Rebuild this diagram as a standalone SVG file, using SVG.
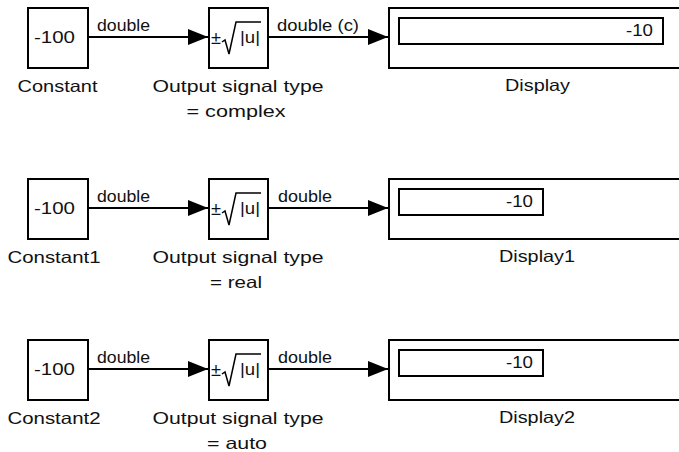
<svg xmlns="http://www.w3.org/2000/svg" width="679" height="452" viewBox="0 0 679 452">
<style>
.blk{fill:#fff;stroke:#000;stroke-width:2}
.fld{fill:#fff;stroke:#000;stroke-width:2}
.wire{fill:none;stroke:#000;stroke-width:1.8}
.rad{fill:none;stroke:#000;stroke-width:1.5}
text{font-family:"Liberation Sans",Arial,sans-serif;font-size:16.5px;fill:#111}
.sm{font-size:16px}
.pm{font-size:18px}
.mid{text-anchor:middle}
</style>
<defs>
<marker id="arr" markerUnits="userSpaceOnUse" markerWidth="20" markerHeight="16" viewBox="0 0 20 16" refX="20" refY="8" orient="auto">
<path d="M0,0 L20,8 L0,16 Z" fill="#000"/>
</marker>
<g id="sqrtIcon">
<text x="211" y="44" class="pm" textLength="10" lengthAdjust="spacingAndGlyphs">±</text>
<path class="rad" d="M222,42 L225,40 L229,54 L236,22 L261,22"/>
<text x="240" y="43" class="sm" textLength="20" lengthAdjust="spacingAndGlyphs">|u|</text>
</g>
</defs>

<g id="connectors">
<line class="wire" x1="89" y1="37" x2="208" y2="37" marker-end="url(#arr)"/>
<line class="wire" x1="269" y1="37" x2="388" y2="37" marker-end="url(#arr)"/>
<text x="97" y="31" textLength="53" lengthAdjust="spacingAndGlyphs">double</text>
<text x="277" y="31" textLength="82" lengthAdjust="spacingAndGlyphs">double (c)</text>

<line class="wire" x1="89" y1="208" x2="208" y2="208" marker-end="url(#arr)"/>
<line class="wire" x1="269" y1="208" x2="388" y2="208" marker-end="url(#arr)"/>
<text x="97" y="202" textLength="53" lengthAdjust="spacingAndGlyphs">double</text>
<text x="278" y="202" textLength="54" lengthAdjust="spacingAndGlyphs">double</text>

<line class="wire" x1="89" y1="369" x2="208" y2="369" marker-end="url(#arr)"/>
<line class="wire" x1="269" y1="369" x2="388" y2="369" marker-end="url(#arr)"/>
<text x="97" y="363" textLength="53" lengthAdjust="spacingAndGlyphs">double</text>
<text x="278" y="363" textLength="54" lengthAdjust="spacingAndGlyphs">double</text>
</g>

<!-- Row 1 -->
<g id="Constant">
<rect class="blk" x="28" y="8" width="60" height="60"/>
<text x="34" y="43" textLength="41" lengthAdjust="spacingAndGlyphs">-100</text>
<text x="57.5" y="92" class="mid" textLength="80" lengthAdjust="spacingAndGlyphs">Constant</text>
</g>
<g id="Sqrt">
<rect class="blk" x="209" y="8" width="59" height="60"/>
<use href="#sqrtIcon"/>
<text x="238" y="92" class="mid" textLength="171" lengthAdjust="spacingAndGlyphs">Output signal type</text>
<text x="236" y="117" class="mid" textLength="99" lengthAdjust="spacingAndGlyphs">= complex</text>
</g>
<g id="Display">
<rect class="blk" x="389" y="8" width="300" height="60"/>
<rect class="fld" x="399" y="18" width="264" height="26"/>
<text x="653" y="36" text-anchor="end" textLength="27" lengthAdjust="spacingAndGlyphs">-10</text>
<text x="537.5" y="91" class="mid" textLength="65" lengthAdjust="spacingAndGlyphs">Display</text>
</g>

<!-- Row 2 -->
<g id="Constant1">
<rect class="blk" x="28" y="179" width="60" height="60"/>
<text x="34" y="214" textLength="41" lengthAdjust="spacingAndGlyphs">-100</text>
<text x="54" y="263" class="mid" textLength="93" lengthAdjust="spacingAndGlyphs">Constant1</text>
</g>
<g id="Sqrt1">
<rect class="blk" x="209" y="179" width="59" height="60"/>
<use href="#sqrtIcon" transform="translate(0,171)"/>
<text x="238" y="263" class="mid" textLength="171" lengthAdjust="spacingAndGlyphs">Output signal type</text>
<text x="236" y="288" class="mid" textLength="52" lengthAdjust="spacingAndGlyphs">= real</text>
</g>
<g id="Display1">
<rect class="blk" x="389" y="179" width="300" height="60"/>
<rect class="fld" x="399" y="189" width="144" height="26"/>
<text x="533" y="207" text-anchor="end" textLength="27" lengthAdjust="spacingAndGlyphs">-10</text>
<text x="537" y="262" class="mid" textLength="76" lengthAdjust="spacingAndGlyphs">Display1</text>
</g>

<!-- Row 3 -->
<g id="Constant2">
<rect class="blk" x="28" y="340" width="60" height="60"/>
<text x="34" y="375" textLength="41" lengthAdjust="spacingAndGlyphs">-100</text>
<text x="54" y="424" class="mid" textLength="93" lengthAdjust="spacingAndGlyphs">Constant2</text>
</g>
<g id="Sqrt2">
<rect class="blk" x="209" y="340" width="59" height="60"/>
<use href="#sqrtIcon" transform="translate(0,332)"/>
<text x="238" y="424" class="mid" textLength="171" lengthAdjust="spacingAndGlyphs">Output signal type</text>
<text x="237" y="449" class="mid" textLength="60" lengthAdjust="spacingAndGlyphs">= auto</text>
</g>
<g id="Display2">
<rect class="blk" x="389" y="340" width="300" height="60"/>
<rect class="fld" x="399" y="350" width="144" height="26"/>
<text x="533" y="368" text-anchor="end" textLength="27" lengthAdjust="spacingAndGlyphs">-10</text>
<text x="537" y="423" class="mid" textLength="76" lengthAdjust="spacingAndGlyphs">Display2</text>
</g>
</svg>
